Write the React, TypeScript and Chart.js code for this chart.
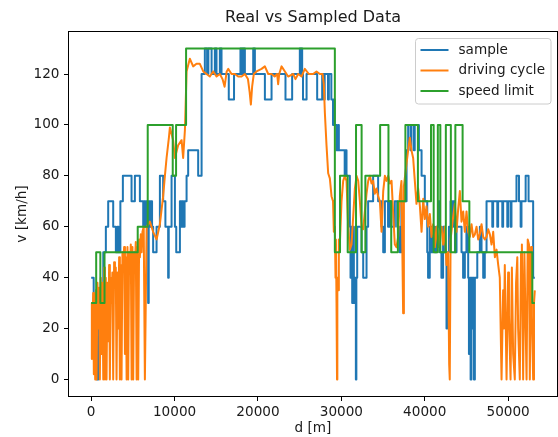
import React, { useEffect, useRef } from "react";
import { Chart, registerables } from "chart.js";

Chart.register(...registerables);

// ---------- data ----------
const xTicks = [0, 10000, 20000, 30000, 40000, 50000];
const yTicks = [0, 20, 40, 60, 80, 100, 120];

// sample (step changes: distance [m] where value starts, value [km/h])
const sampleD = [0, 300, 700, 850, 1100, 1250, 1450, 1760, 2040, 2640, 2960, 3150, 3300, 3500, 3800, 4840, 5240, 5840, 6240, 6350, 6450, 6550, 6700, 6830, 6900, 7050, 7150, 7300, 7430, 7840, 8240, 8630, 8900, 9230, 9300, 9640, 10040, 10200, 10640, 10800, 10900, 11050, 11200, 11440, 11630, 12830, 13240, 13630, 13900, 14050, 14440, 14830, 15030, 15430, 15630, 16500, 17130, 17900, 18000, 18100, 18250, 18330, 18430, 19430, 19630, 20830, 21630, 23300, 24100, 25020, 25120, 25200, 25300, 25400, 25830, 27100, 27700, 27900, 28000, 28400, 28500, 28800, 29000, 29100, 29200, 29420, 29620, 29700, 30400, 30500, 30620, 31020, 31100, 31200, 31300, 31400, 31500, 31650, 31740, 31800, 31900, 32420, 32620, 33020, 33210, 33810, 34410, 34820, 35020, 35220, 35600, 35800, 36000, 36410, 36700, 37010, 37200, 37820, 38010, 38300, 38400, 38700, 38800, 39300, 39620, 40010, 40300, 40400, 40600, 40800, 41000, 41200, 41400, 41600, 41800, 42000, 42200, 42400, 42610, 42700, 42900, 43100, 43300, 43410, 43630, 43810, 44410, 44600, 44810, 45000, 45210, 45300, 45400, 45500, 45600, 45700, 45800, 45900, 46010, 46300, 46610, 46810, 47010, 47200, 47410, 48100, 48200, 48700, 48800, 49300, 49400, 49900, 50000, 50300, 50400, 51000, 51300, 51500, 51600, 52100, 52450, 53000, 53200];
const sampleV = [40, 30, 0, 30, 10, 30, 50, 60, 70, 60, 50, 60, 50, 70, 80, 70, 80, 70, 60, 70, 60, 70, 60, 30, 70, 60, 70, 60, 50, 60, 80, 70, 60, 40, 60, 80, 60, 50, 70, 60, 70, 60, 70, 80, 90, 80, 120, 130, 120, 130, 120, 130, 120, 130, 120, 110, 120, 130, 120, 130, 120, 130, 120, 130, 120, 110, 120, 110, 120, 130, 120, 130, 120, 110, 120, 110, 120, 110, 120, 110, 120, 110, 100, 110, 100, 90, 100, 90, 80, 90, 80, 60, 40, 60, 30, 60, 30, 40, 0, 40, 60, 50, 40, 60, 70, 80, 70, 60, 50, 70, 60, 70, 60, 70, 60, 50, 70, 90, 100, 90, 100, 90, 100, 90, 80, 70, 50, 40, 60, 50, 60, 50, 60, 70, 50, 40, 60, 50, 20, 50, 60, 70, 60, 70, 50, 60, 50, 40, 50, 60, 40, 10, 40, 0, 40, 20, 40, 0, 40, 50, 60, 50, 40, 50, 70, 60, 70, 60, 70, 60, 70, 60, 70, 60, 70, 80, 70, 60, 70, 80, 70, 40, 40];

// driving cycle
const cycleD = [0, 80, 160, 240, 320, 400, 480, 560, 650, 750, 850, 950, 1040, 1150, 1250, 1350, 1450, 1550, 1650, 1750, 1840, 1950, 2050, 2150, 2240, 2350, 2450, 2540, 2640, 2750, 2850, 2950, 3040, 3150, 3250, 3350, 3440, 3550, 3640, 3750, 3840, 3950, 4050, 4150, 4250, 4350, 4440, 4550, 4650, 4750, 4850, 4950, 5040, 5150, 5240, 5350, 5450, 5550, 5640, 5750, 5840, 5950, 6050, 6150, 6300, 6440, 6650, 7040, 7430, 7840, 8240, 8630, 8840, 9040, 9320, 9440, 9830, 10040, 10430, 10840, 11030, 11240, 11440, 11830, 12230, 12630, 13030, 13440, 13840, 14230, 14630, 15030, 15430, 15750, 16000, 16250, 16430, 16830, 17230, 17630, 18030, 18430, 18800, 19000, 19150, 19300, 19500, 19830, 20430, 20830, 21230, 21630, 22000, 22300, 22420, 22550, 22830, 23230, 23620, 24220, 24500, 24820, 25220, 25620, 26100, 26620, 27020, 27420, 27750, 27900, 28020, 28220, 28420, 28620, 28820, 29000, 29100, 29220, 29300, 29350, 29420, 29480, 29520, 29600, 29700, 29820, 30020, 30220, 30420, 30620, 30820, 31020, 31220, 31420, 31620, 31820, 32020, 32220, 32420, 32620, 32820, 33020, 33220, 33420, 33620, 33810, 34010, 34210, 34410, 34620, 34820, 35020, 35220, 35420, 35620, 35820, 36020, 36220, 36410, 36610, 36810, 37010, 37210, 37410, 37500, 37820, 38010, 38210, 38410, 38610, 38810, 39010, 39210, 39420, 39620, 39820, 40010, 40210, 40410, 40610, 40810, 41010, 41210, 41410, 41610, 41810, 42010, 42210, 42410, 42600, 42800, 42930, 43000, 43100, 43410, 43610, 43810, 44010, 44210, 44410, 44610, 44810, 45010, 45210, 45410, 45610, 45810, 46010, 46210, 46410, 46610, 46810, 47010, 47210, 47410, 47610, 47810, 48010, 48210, 48410, 48610, 48810, 49000, 49210, 49400, 49500, 49600, 49810, 50000, 50100, 50290, 50450, 50600, 50800, 50950, 51100, 51200, 51400, 51550, 51650, 51800, 51950, 52050, 52210, 52350, 52500, 52600, 52750, 52850, 53000, 53100, 53200];
const cycleV = [8, 30, 22, 34, 2, 30, 0, 35, 0, 38, 20, 36, 0, 40, 10, 38, 0, 44, 0, 40, 0, 38, 15, 45, 0, 40, 30, 42, 0, 46, 38, 44, 0, 42, 20, 48, 0, 45, 0, 50, 45, 52, 10, 48, 0, 52, 0, 50, 44, 53, 0, 52, 0, 50, 45, 54, 0, 52, 0, 55, 48, 57, 50, 58, 60, 0, 60, 62, 58, 55, 61, 72, 80, 87, 95, 99, 94, 87, 92, 94, 87, 98, 121, 126, 123, 124, 124, 121, 120, 119, 121, 119, 120, 118, 115, 121, 122, 120, 120, 119, 119, 120, 118, 113, 108, 115, 120, 121, 122, 123, 120, 120, 119, 120, 116, 120, 123, 121, 119, 120, 118, 120, 119, 122, 120, 120, 121, 120, 120, 116, 105, 92, 81, 79, 72, 70, 58, 60, 40, 55, 30, 0, 40, 35, 55, 53, 70, 78, 80, 78, 60, 51, 53, 64, 75, 80, 78, 70, 60, 59, 66, 73, 78, 80, 77, 78, 73, 75, 72, 70, 58, 74, 80, 78, 80, 77, 78, 65, 53, 52, 56, 72, 78, 26, 76, 85, 90, 95, 90, 87, 78, 69, 75, 68, 58, 71, 63, 68, 60, 65, 56, 61, 52, 60, 52, 58, 60, 53, 60, 45, 50, 6, 0, 55, 64, 69, 58, 67, 74, 62, 66, 58, 66, 58, 56, 61, 56, 57, 60, 55, 57, 61, 56, 55, 56, 59, 57, 53, 58, 48, 51, 45, 40, 0, 35, 20, 45, 0, 42, 25, 0, 44, 10, 0, 38, 48, 20, 0, 50, 53, 0, 50, 30, 0, 55, 53, 0, 52, 25, 0, 30, 35];

// speed limit (step changes)
const limitD = [0, 600, 1100, 1600, 5580, 6780, 9780, 10180, 11380, 29220, 29840, 30760, 31760, 32430, 32880, 34650, 35650, 35980, 36780, 37680, 39180, 40750, 41070, 41570, 41870, 42530, 43130, 43670, 44540, 45350, 52900, 53200];
const limitV = [30, 50, 30, 50, 60, 100, 80, 100, 130, 50, 80, 50, 100, 50, 80, 100, 70, 50, 70, 100, 70, 100, 50, 100, 50, 100, 50, 100, 70, 50, 30, 30];

const seriesLabels = ["sample", "driving cycle", "speed limit"];
const seriesColors = ["#1f77b4", "#ff7f0e", "#2ca02c"];

const toPts = (d: number[], v: number[]) => d.map((x, i) => ({ x, y: v[i] }));

const TEXT = "#1a1a1a";
const FONT = "'DejaVu Sans', sans-serif";

const framePlugin = {
  id: "frame",
  afterDatasetsDraw(chart: any) {
    const { ctx, chartArea: a } = chart;
    ctx.save();
    ctx.strokeStyle = "#000";
    ctx.lineWidth = 1;
    ctx.strokeRect(a.left - 0.5, a.top - 0.5, a.right - a.left + 1, a.bottom - a.top + 1);
    ctx.restore();
  },
};

const legendPlugin = {
  id: "mplLegend",
  afterDraw(chart: any) {
    const { ctx, chartArea: a } = chart;
    const w = 135.5, h = 65.5;
    const x0 = a.right - 6 - w, y0 = a.top + 6.5;
    ctx.save();
    ctx.beginPath();
    const r = 3;
    ctx.moveTo(x0 + r, y0);
    ctx.lineTo(x0 + w - r, y0);
    ctx.arcTo(x0 + w, y0, x0 + w, y0 + r, r);
    ctx.lineTo(x0 + w, y0 + h - r);
    ctx.arcTo(x0 + w, y0 + h, x0 + w - r, y0 + h, r);
    ctx.lineTo(x0 + r, y0 + h);
    ctx.arcTo(x0, y0 + h, x0, y0 + h - r, r);
    ctx.lineTo(x0, y0 + r);
    ctx.arcTo(x0, y0, x0 + r, y0, r);
    ctx.closePath();
    ctx.fillStyle = "rgba(255,255,255,0.8)";
    ctx.fill();
    ctx.strokeStyle = "#cccccc";
    ctx.lineWidth = 1;
    ctx.stroke();
    ctx.font = `13.6px ${FONT}`;
    ctx.textBaseline = "middle";
    ctx.textAlign = "left";
    chart.data.datasets.forEach((ds: any, i: number) => {
      const y = y0 + 11.5 + i * 20.5;
      ctx.strokeStyle = ds.borderColor;
      ctx.lineWidth = 2;
      ctx.beginPath();
      ctx.moveTo(x0 + 5, y);
      ctx.lineTo(x0 + 33, y);
      ctx.stroke();
      ctx.fillStyle = TEXT;
      ctx.fillText(ds.label, x0 + 43, y);
    });
    ctx.restore();
  },
};

export default function App() {
  const ref = useRef<HTMLCanvasElement | null>(null);
  useEffect(() => {
    if (!ref.current) return;
    const common = {
      borderWidth: 2,
      pointRadius: 0,
      fill: false,
      tension: 0,
      borderJoinStyle: "round" as const,
    };
    const chart = new Chart(ref.current, {
      type: "line",
      data: {
        datasets: [
          { ...common, label: seriesLabels[0], data: toPts(sampleD, sampleV), borderColor: seriesColors[0], stepped: true, order: 3 },
          { ...common, label: seriesLabels[1], data: toPts(cycleD, cycleV), borderColor: seriesColors[1], order: 2 },
          { ...common, label: seriesLabels[2], data: toPts(limitD, limitV), borderColor: seriesColors[2], stepped: true, order: 1 },
        ],
      },
      options: {
        animation: false,
        responsive: false,
        events: [],
        layout: { padding: { left: 0, right: 1, top: 0, bottom: 0 } },
        font: { family: FONT },
        plugins: {
          legend: { display: false },
          tooltip: { enabled: false },
          title: {
            display: true,
            text: "Real vs Sampled Data",
            fullSize: false,
            color: TEXT,
            font: { family: FONT, size: 16, weight: "normal" },
            padding: { top: 8, bottom: 4.8 },
          },
        },
        scales: {
          x: {
            type: "linear",
            min: -2660,
            max: 55860,
            afterBuildTicks: (s: any) => {
              s.ticks = xTicks.map((v) => ({ value: v }));
            },
            afterFit: (s: any) => {
              s.height = 41;
            },
            ticks: {
              color: TEXT,
              font: { family: FONT, size: 13.6 },
              padding: 3,
              maxRotation: 0,
              autoSkip: false,
              callback: (v: any) => String(v),
            },
            grid: { display: true, drawOnChartArea: false, drawTicks: true, tickLength: 5, color: "#000", lineWidth: 1 },
            border: { display: false },
            title: { display: true, text: "d [m]", color: TEXT, font: { family: FONT, size: 13.6 }, padding: { top: 0, bottom: 0 } },
          },
          y: {
            type: "linear",
            min: -6.5,
            max: 136.5,
            afterBuildTicks: (s: any) => {
              s.ticks = yTicks.map((v) => ({ value: v }));
            },
            afterFit: (s: any) => {
              s.width = 69;
            },
            ticks: {
              color: TEXT,
              font: { family: FONT, size: 13.6 },
              padding: 4.5,
              autoSkip: false,
              callback: (v: any) => String(v),
            },
            grid: { display: true, drawOnChartArea: false, drawTicks: true, tickLength: 5, color: "#000", lineWidth: 1 },
            border: { display: false },
            title: { display: true, text: "v [km/h]", color: TEXT, font: { family: FONT, size: 13.6 }, padding: { top: 14, bottom: 0 } },
          },
        },
      },
      plugins: [framePlugin, legendPlugin],
    } as any);
    return () => chart.destroy();
  }, []);
  return (
    <div style={{ position: "fixed", left: 0, top: 0, width: 558, height: 437, background: "#fff" }}>
      <canvas ref={ref} width={558} height={437} style={{ width: 558, height: 437, display: "block" }} />
    </div>
  );
}
